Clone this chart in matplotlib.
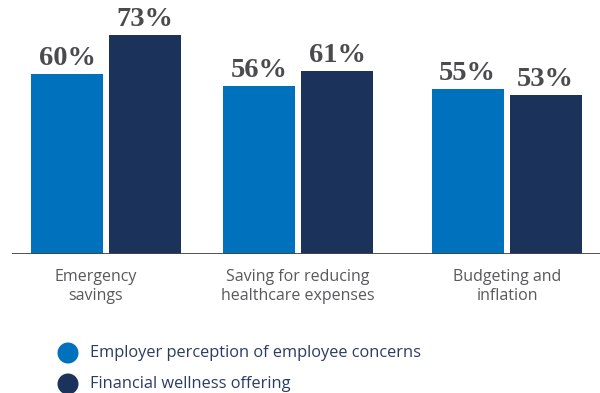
import matplotlib
matplotlib.use("Agg")
import matplotlib.pyplot as plt
from matplotlib.patches import Ellipse

# Survey data (percent of respondents)
categories = ["Emergency\nsavings", "Saving for reducing\nhealthcare expenses", "Budgeting and\ninflation"]
employer_perception = [60, 56, 55]
wellness_offering = [73, 61, 53]
series_names = ["Employer perception of employee concerns", "Financial wellness offering"]

# Layout (pixel-based horizontal coordinates)
group_centers = [106, 298, 506.5]
label_centers = [96, 298, 507]
bar_width = 72
bar_gap = 6
colors = ["#0071BC", "#1B325A"]
value_color = "#4A4B4D"
cat_color = "#58595B"
legend_color = "#2B3C63"

W, H = 600, 393
fig = plt.figure(figsize=(W / 100, H / 100), dpi=100)
ax = fig.add_axes([12 / W, (H - 254) / H, (W - 12) / W, 254 / H])
ax.set_xlim(12, 600)
ax.set_ylim(0, 254 / 3)
ax.axis("off")

offset = (bar_width + bar_gap) / 2
for vals, sign, color in [(employer_perception, -1, colors[0]), (wellness_offering, 1, colors[1])]:
    xs = [c + sign * offset for c in group_centers]
    ax.bar(xs, vals, width=bar_width, color=color, zorder=2)
    for x, v in zip(xs, vals):
        ax.annotate(f"{v}%", (x, v), xytext=(0, 2.5), textcoords="offset points",
                    ha="center", va="bottom", fontsize=20.5, fontweight="bold",
                    family="Liberation Serif", color=value_color)

ax.axhline(0, color="#444444", linewidth=1.3, zorder=3)

# Category labels under the baseline
for lc, cat in zip(label_centers, categories):
    ax.annotate(cat, (lc, 0), xytext=(0, -11), textcoords="offset points",
                ha="center", va="top", fontsize=11.5, family="Open Sans",
                color=cat_color, linespacing=1.25, annotation_clip=False)

# Legend with round markers
leg_y = [353, 384]
for y, name, color in zip(leg_y, series_names, colors):
    fig.patches.append(Ellipse((68 / W, 1 - y / H), width=21 / W, height=21 / H,
                               transform=fig.transFigure, facecolor=color, edgecolor="none"))
    fig.text(90 / W, 1 - y / H, name, ha="left", va="center", fontsize=11.8,
             family="Open Sans", color=legend_color)

fig.savefig("out.png", dpi=100)
